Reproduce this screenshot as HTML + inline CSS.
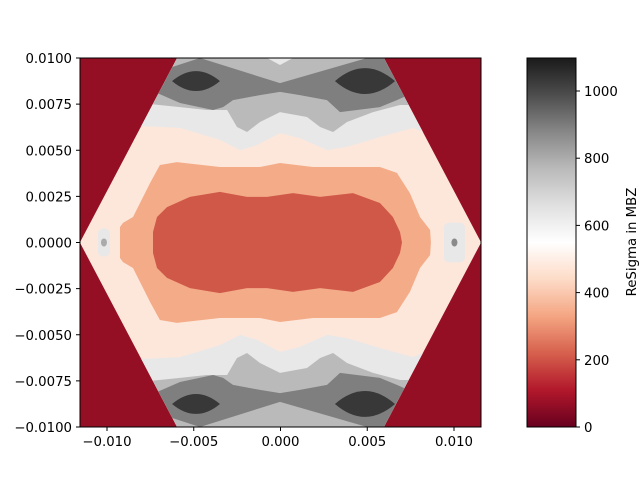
<!DOCTYPE html>
<html><head><meta charset="utf-8"><style>
body{margin:0;background:#fff;font-family:"DejaVu Sans","Liberation Sans",sans-serif}
svg text{font-family:"DejaVu Sans","Liberation Sans",sans-serif;font-size:13.3px;fill:#000}
</style></head><body>
<svg id="s" width="640" height="480" viewBox="0 0 640 480">
<defs>
<clipPath id="ax"><rect x="80" y="58" width="401" height="369"/></clipPath>
<clipPath id="hexc"><polygon id="hexpoly" points=""/></clipPath>
<linearGradient id="cg" x1="0" y1="1" x2="0" y2="0">
<stop offset="0" stop-color="#67001f"/><stop offset="0.1" stop-color="#b2182b"/><stop offset="0.2" stop-color="#d6604d"/><stop offset="0.3" stop-color="#f4a582"/><stop offset="0.4" stop-color="#fddbc7"/><stop offset="0.5" stop-color="#ffffff"/><stop offset="0.6" stop-color="#e0e0e0"/><stop offset="0.7" stop-color="#bababa"/><stop offset="0.8" stop-color="#878787"/><stop offset="0.9" stop-color="#4d4d4d"/><stop offset="1" stop-color="#1a1a1a"/>
</linearGradient>
</defs>
<rect x="80" y="58" width="401" height="369" fill="#950f24"/>
<g id="plot" clip-path="url(#ax)"><g id="inner" clip-path="url(#hexc)"></g></g>
<rect x="80" y="58" width="401" height="369" fill="none" stroke="#000" stroke-width="1"/>
<g id="axes"></g>
<rect x="527" y="58" width="49" height="369" fill="url(#cg)" stroke="#000" stroke-width="1"/>
<text x="636" y="242" transform="rotate(-90 636 242)" text-anchor="middle">ReSigma in MBZ</text>
</svg>
<script>
// axis data (units of 1e-3)
const xTicks=[-10,-5,0,5,10];
const xTickLabels=["−0.010","−0.005","0.000","0.005","0.010"];
const yTicks=[-10,-7.5,-5,-2.5,0,2.5,5,7.5,10];
const yTickLabels=["−0.0100","−0.0075","−0.0050","−0.0025","0.0000","0.0025","0.0050","0.0075","0.0100"];
const cbTicks=[0,200,400,600,800,1000];
const hexBoundary=[[-11.56,0],[-5.57,10.7],[5.57,10.7],[11.56,0],[5.57,-10.7],[-5.57,-10.7]];
const lightGrayEdge=[[-9.25,6.37],[-5.79,6.21],[-3.49,5.56],[-2.33,5.01],[-1.35,5.28],[-0.03,5.93],[1.12,5.66],[2.68,5.01],[3.83,5.18],[5.73,5.72],[7.64,6.21],[9.19,5.56]];
const midGrayEdge=[[-8.1,7.56],[-5.79,7.34],[-4.24,7.18],[-3.08,7.18],[-2.51,6.26],[-1.93,5.99],[-1.18,6.53],[-0.03,7.07],[1.53,6.8],[2.28,6.26],[3.03,5.99],[3.83,6.53],[5.33,7.07],[6.89,7.45],[8.04,7.45]];
const darkGrayShape=[[-7.52,8.27],[-5.79,7.56],[-3.89,7.18],[-3.31,7.34],[-2.74,7.72],[-1.18,7.99],[-0.03,8.16],[1.12,7.99],[2.68,7.72],[3.43,7.07],[5.73,7.34],[6.71,7.72],[8.04,8.27],[8.5,11],[4.99,11],[4.99,10],[-0.03,8.64],[-4.64,10],[-6.24,9.51],[-8,9.51]];
const topNotch=[[-0.78,11],[-0.78,10],[-0.03,9.62],[0.72,10],[0.72,11]];
const darkestBlobs=[[-4.87,8.75,1.38,0.54],[4.87,8.75,1.73,0.70]];
const salmonEdge=[[-9.25,0],[-9.25,0.84],[-9.08,1.06],[-8.5,1.38],[-7.52,3.22],[-6.95,4.2],[-5.97,4.36],[-3.49,4.09],[-1.18,4.09],[-0.03,4.31],[1.87,4.09],[5.73,4.09],[6.71,3.77],[7.46,2.68],[8.04,1.38],[8.62,0.68],[8.67,0]];
const redEdge=[[-7.35,0],[-7.35,0.57],[-7.12,1.38],[-6.54,1.92],[-5.22,2.47],[-3.49,2.74],[-1.93,2.47],[-0.78,2.47],[0.72,2.68],[2.28,2.47],[4.18,2.68],[5.73,2.14],[6.48,1.38],[6.89,0.57],[7,0]];
const sideBlobs=[[-10.52,-9.83,0.76,"#aaaaaa"],[9.42,10.63,1.08,"#8a8a8a"]];

const X=v=>280.5+v*17.35, Y=v=>242.5-v*18.45;
const CB=v=>427-v*0.336;
const NS="http://www.w3.org/2000/svg";
const inner=document.getElementById('inner'), axes=document.getElementById('axes');
function mk(t,a,p){const e=document.createElementNS(NS,t);for(const k in a)e.setAttribute(k,a[k]);(p||inner).appendChild(e);return e;}
const pts=arr=>arr.map(p=>X(p[0]).toFixed(1)+","+Y(p[1]).toFixed(1)).join(" ");
document.getElementById('hexpoly').setAttribute('points',pts(hexBoundary));
let e;
e=mk('rect',{x:0,y:0,width:640,height:480,fill:'#fde7db'});


[1,-1].forEach(s=>{
  const f=a=>a.map(p=>[p[0],p[1]*s]);
  e=mk('polygon',{points:pts(f(lightGrayEdge.concat([[9.6,11],[-9.6,11]]))),fill:'#e8e8e8'});
  
  
  e=mk('polygon',{points:pts(f(midGrayEdge.concat([[8.5,11],[-8.5,11]]))),fill:'#bababa'});
  
  
  e=mk('polygon',{points:pts(f(darkGrayShape)),fill:'#7f7f7f'});
  
  
  if(s===1){e=mk('polygon',{points:pts(topNotch),fill:'#e8e8e8'});
  
  }
  darkestBlobs.forEach(b=>{
    const cx=X(b[0]),cy=Y(b[1]*s),rx=b[2]*17.35,ry=b[3]*18.45;
    e=mk('path',{d:`M${cx-rx},${cy} Q${cx},${cy-2*ry} ${cx+rx},${cy} Q${cx},${cy+2*ry} ${cx-rx},${cy}Z`,fill:'#383838'});
    
    
  });
});
const closed=a=>a.concat(a.slice().reverse().map(p=>[p[0],-p[1]]));
e=mk('polygon',{points:pts(closed(salmonEdge)),fill:'#f4ab88'});


e=mk('polygon',{points:pts(closed(redEdge)),fill:'#d05848'});


sideBlobs.forEach(b=>{
  e=mk('rect',{x:X(b[0]),y:Y(b[2]),width:X(b[1])-X(b[0]),height:Y(-b[2])-Y(b[2]),rx:5,fill:'#e8e8e8'});
  
  
  e=mk('ellipse',{cx:(X(b[0])+X(b[1]))/2,cy:Y(0),rx:3,ry:4,fill:b[3]});
  
  
});
xTicks.forEach((v,i)=>{
  e=mk('line',{x1:X(v),x2:X(v),y1:427,y2:431,stroke:'#000'},axes);
  
  
  e=mk('text',{x:X(v),y:446,'text-anchor':'middle'},axes);e.textContent=xTickLabels[i];
  
  
});
yTicks.forEach((v,i)=>{
  e=mk('line',{x1:76,x2:80,y1:Y(v),y2:Y(v),stroke:'#000'},axes);
  
  
  e=mk('text',{x:72,y:Y(v)+5,'text-anchor':'end'},axes);e.textContent=yTickLabels[i];
  
  
});
cbTicks.forEach(v=>{
  e=mk('line',{x1:576,x2:580,y1:CB(v),y2:CB(v),stroke:'#000'},axes);
  
  
  e=mk('text',{x:584,y:CB(v)+5},axes);e.textContent=String(v);
  
  
});
</script>
</body></html>
